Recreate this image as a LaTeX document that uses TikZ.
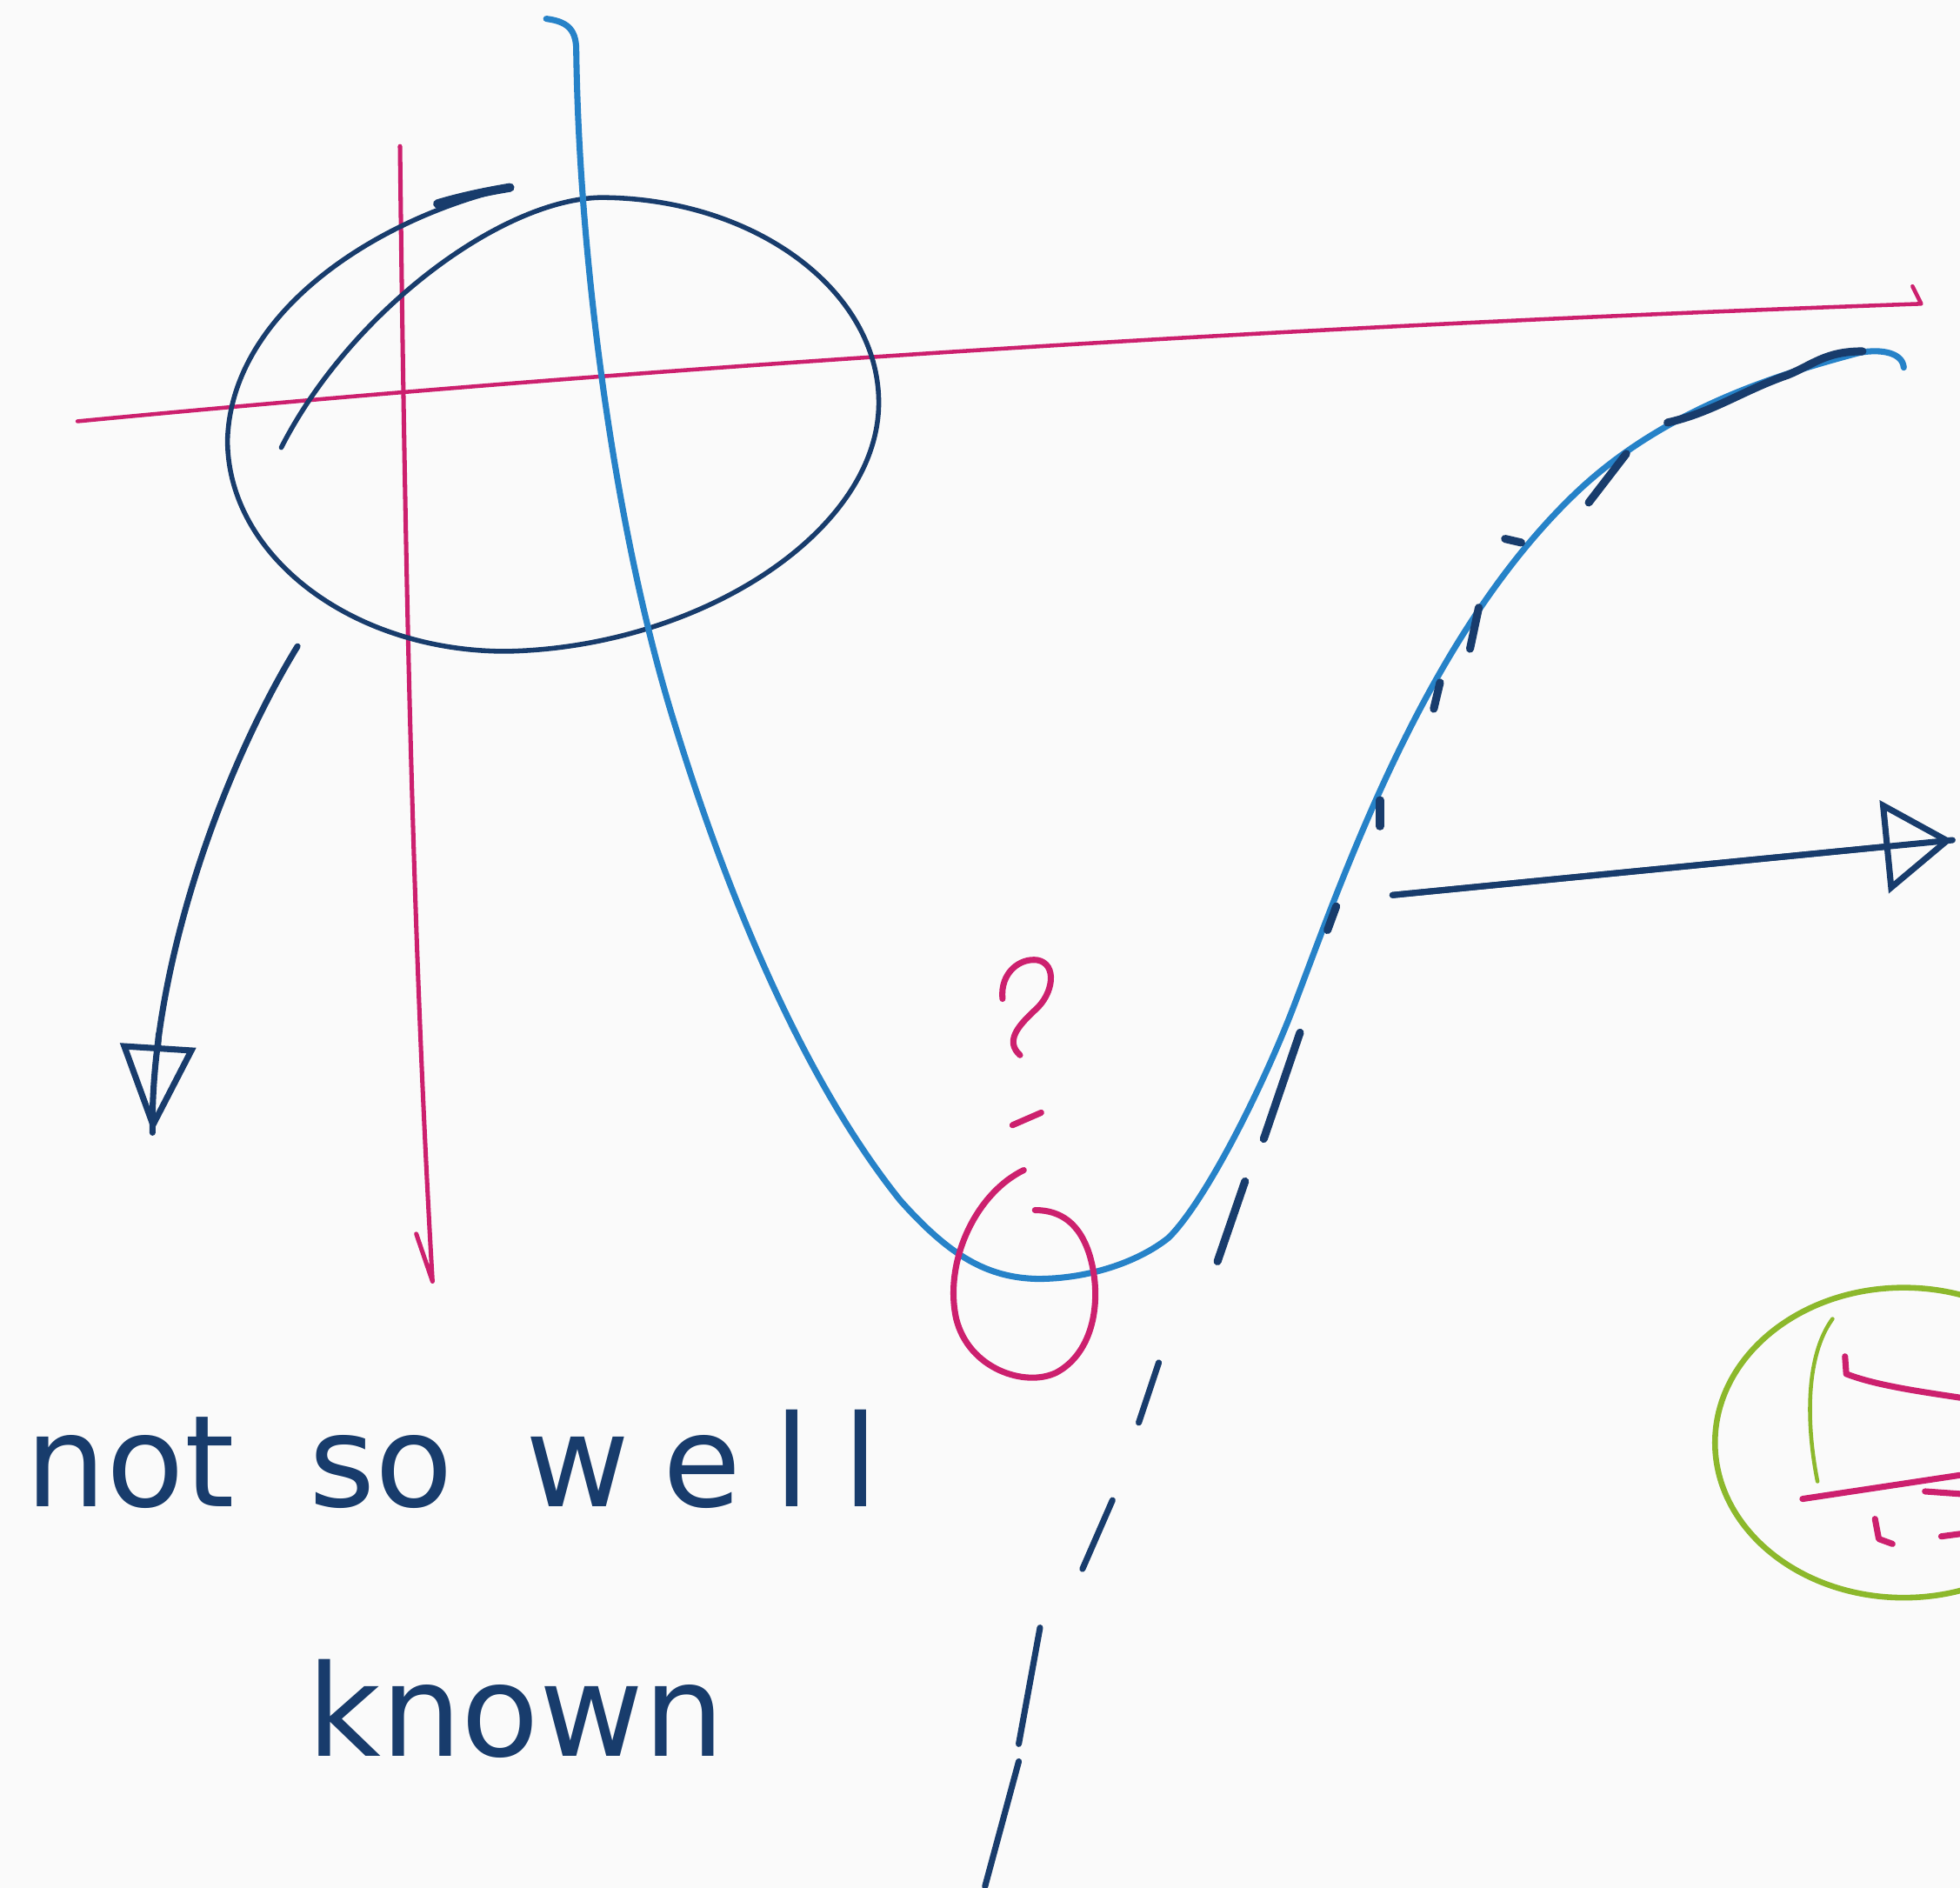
\documentclass[tikz,border=0pt]{standalone}
\usepackage{fontspec}
\setmainfont{DejaVu Sans}
\usetikzlibrary{arrows.meta}
\definecolor{cpink}{RGB}{204,32,110}
\definecolor{csky}{RGB}{38,130,200}
\definecolor{cnavy}{RGB}{24,60,108}
\definecolor{cgreen}{RGB}{140,184,44}
\definecolor{cpaper}{RGB}{250,250,250}

\begin{document}
\begin{tikzpicture}[x=0.1mm,y=-0.1mm,line cap=round,line join=round,
axis/.style={cpink,line width=0.9pt},
pinkpen/.style={cpink,line width=1.4pt},
curve/.style={csky,line width=1.4pt},
ink/.style={cnavy,line width=1.1pt},
tick/.style={cnavy,line width=1.8pt},
arr/.style={cnavy,line width=1.4pt},
hand/.style={text=cnavy,font=\fontsize{29}{34}\selectfont,inner sep=0pt},
wide/.style={hand,font=\fontsize{29}{34}\selectfont\addfontfeature{LetterSpace=26}}]
\fill[cpaper,use as bounding box] (0,0) rectangle (1568,1510);
\clip (0,0) rectangle (1568,1510);
\draw[axis] (62,337) .. controls (500,295) and (1000,262) .. (1537,243) -- (1530,229);
\draw[axis,line width=1pt] (320,117) .. controls (324,450) and (330,750) .. (346,1025) -- (333,987);
\draw[ink] (408,150) .. controls (300,175) and (185,250) .. (182,352)
  .. controls (182,445) and (282,521) .. (405,521)
  .. controls (560,518) and (703,425) .. (703,322)
  .. controls (703,232) and (603,158) .. (480,158)
  .. controls (400,160) and (280,250) .. (225,358);
\draw[ink,line width=2pt] (408,150) .. controls (390,153) and (370,157) .. (350,163);
\draw[curve] (437,15) .. controls (452,17) and (461,22) .. (461,40)
  .. controls (463,200) and (490,420) .. (540,580)
  .. controls (580,710) and (640,860) .. (720,960)
  .. controls (760,1005) and (790,1022) .. (830,1023)
  .. controls (870,1023) and (910,1010) .. (935,990)
  .. controls (965,960) and (1010,870) .. (1035,805)
  .. controls (1075,700) and (1140,510) .. (1260,395)
  .. controls (1330,328) and (1420,300) .. (1488,282)
  .. controls (1505,279) and (1522,282) .. (1523,294);
\draw[tick] (1334,338) .. controls (1370,330) and (1395,312) .. (1430,300) .. controls (1450,292) and (1460,281) .. (1490,281);
\foreach \xa/\ya/\xb/\yb in {1301/363/1271/402,1204/431/1217/434,1183/486/1176/519,1152/546/1147/567,1104/640/1104/661,1069/725/1062/744,1040/826/1011/911,996/945/974/1009}
  \draw[tick] (\xa,\ya) -- (\xb,\yb);
\foreach \xa/\ya/\xb/\yb in {927/1090/911/1138,890/1200/866/1255,832/1302/815/1395,815/1409/788/1509}
  \draw[tick,line width=1.4pt] (\xa,\ya) -- (\xb,\yb);
\coordinate (lfrom) at (238,517);
\coordinate (lbend) at (127,827);
\coordinate (lto) at (122,906);
\draw[arr] (lfrom) .. controls (175,620) and (120,780) .. (lto);
\draw[arr,-{Triangle[open,length=7mm,width=6mm]}] (lbend) -- (lto);
\coordinate (rfrom) at (1114,716);
\coordinate (rto) at (1562,672);
\draw[arr] (rfrom) -- (rto);
\draw[arr,-{Triangle[open,length=5.5mm,width=7.4mm]}] (rfrom) -- (rto);
\draw[pinkpen] (802,799) .. controls (800,778) and (816,766) .. (830,768)
  .. controls (846,771) and (843,795) .. (828,808)
  .. controls (814,821) and (804,833) .. (816,844);
\draw[pinkpen] (810,900) -- (833,890);
\draw[pinkpen] (819,936) .. controls (780,955) and (755,1010) .. (765,1055)
  .. controls (775,1095) and (820,1110) .. (845,1098)
  .. controls (875,1082) and (882,1040) .. (872,1005)
  .. controls (864,978) and (848,968) .. (828,968);
\node[hand,anchor=base west] (wnot) at (20,1205) {not};
\node[hand,anchor=base] (wso) at (305,1205) {so};
\node[wide,anchor=base west] (wwell) at (420,1205) {well};
\node[hand,anchor=base west] (wknown) at (245,1405) {known};
\draw[cgreen,line width=1.3pt] (1523,1154) ellipse [x radius=151,y radius=124];
\draw[cgreen,line width=0.9pt] (1466,1055) .. controls (1444,1085) and (1445,1140) .. (1454,1185);
\draw[pinkpen] (1476,1085) -- (1477,1099) .. controls (1500,1108) and (1535,1113) .. (1568,1118);
\draw[pinkpen] (1442,1199) -- (1568,1180);
\draw[pinkpen] (1540,1193) -- (1568,1195);
\draw[pinkpen] (1500,1215) -- (1503,1231) -- (1514,1235);
\draw[pinkpen] (1553,1229) -- (1568,1227);
\end{tikzpicture}
\end{document}
